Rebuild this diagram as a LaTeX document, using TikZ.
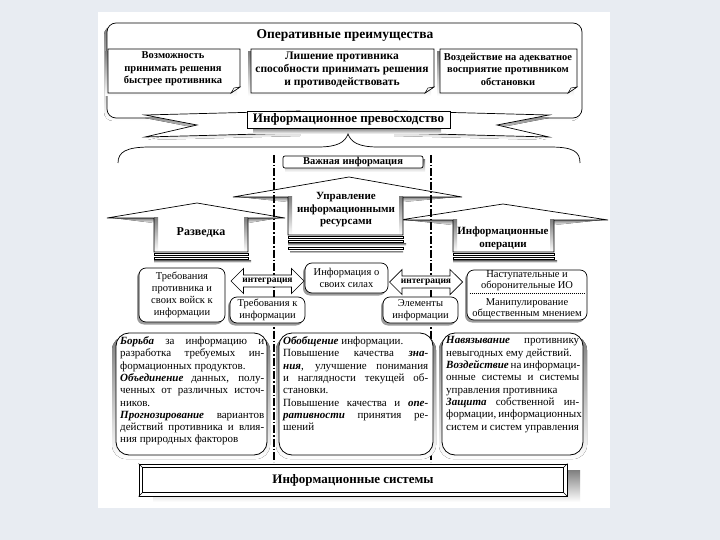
\documentclass[tikz,border=0pt]{standalone}
\usepackage{fontspec}
\setmainfont{Liberation Serif}
\usetikzlibrary{calc,shapes.arrows,shadows}
\definecolor{slidebg}{HTML}{E8ECF2}
\definecolor{shade}{HTML}{9C9C9C}
\newcommand{\fsz}[2]{\fontsize{#1}{#2}\selectfont}
\newcommand{\kw}[1]{\textbf{\textit{#1}}}
\newcommand{\nohyph}{\hyphenpenalty=10000 \exhyphenpenalty=10000 \tolerance=9999 \hbadness=10000 \emergencystretch=5pt}
\tikzset{
  ol/.style={draw=black, line width=0.7pt, fill=white},
  bt/.style={align=center, inner sep=0pt},
  divline/.style={line width=1.1pt, dash pattern=on 8pt off 2pt on 1.5pt off 2pt},
  mbox/.style={draw=black, line width=0.7pt, fill=white, rounded corners=7pt, align=center, inner sep=0pt, font=\fsz{10.5}{12.2},
     drop shadow={shadow xshift=-2pt, shadow yshift=-2.5pt, fill=shade, opacity=1}},
  intarrow/.style={double arrow, draw=black, line width=0.7pt, fill=white, double arrow head extend=6pt,
     inner xsep=1pt, inner ysep=2pt, minimum height=73pt, minimum width=25pt, font=\bfseries\fsz{9.5}{11}},
  bbox/.style={draw=black, line width=0.8pt, fill=white, rounded corners=13pt},
  btext/.style={anchor=north west, inner sep=0pt, align=justify, font=\fsz{11}{12.3}\nohyph},
}
\newcommand{\docbox}[4]{%
  \fill[shade] (#1-3,#2+3) rectangle (#3-3,#4+3);
  \draw[ol] (#1,#2) -- (#3,#2) -- (#3,#4-6) -- (#3-9,#4) -- (#1,#4) -- cycle;
  \draw[ol,line width=0.5pt] (#3-9,#4) -- (#3-6,#4-5) -- (#3,#4-6) -- cycle;
}
% tipLx tipRx peakx peaky ys bodyleft bodyright bodybottom
\newcommand{\house}[8]{%
  \fill[shade] (#1+6,#5) -- (#6,#5) -- (#6,#5+5) -- cycle;
  \fill[shade] (#2-6,#5) -- (#7,#5) -- (#7,#5+5) -- cycle;
  \fill[white] (#1,#5) -- (#3,#4) -- (#2,#5) -- (#7,#5) -- (#7,#8) -- (#6,#8) -- (#6,#5) -- cycle;
  \fill[shade] (#6,#5) rectangle (#6+4,#8);
  \fill[shade] (#7-4,#5) rectangle (#7,#8);
  \draw[line width=0.7pt] (#1,#5) -- (#3,#4) -- (#2,#5) -- (#7,#5) -- (#7,#8) -- (#6,#8) -- (#6,#5) -- cycle;
  \draw[ol,line width=0.6pt] (#6,#8+1) rectangle (#7,#8+3.5);
  \draw[ol,line width=0.6pt] (#6,#8+5) rectangle (#7,#8+7.5);
  \fill[shade] (#6,#8+8.5) rectangle (#7+3,#8+10.5);
}
\begin{document}
\begin{tikzpicture}[x=1pt,y=-1pt]
\useasboundingbox (0,0) rectangle (720,540);
\fill[slidebg] (0,0) rectangle (720,540);
\fill[white] (98,12) rectangle (610,508);

% ---- container: operational advantages
\fill[shade,rounded corners=9pt] (104,26) rectangle (580,121);
\draw[ol,rounded corners=9pt] (107,23) rectangle (582,118);
\node[bt,font=\bfseries\fsz{13.5}{15}] (opt) at (345,35) {Оперативные преимущества};

\docbox{108}{49}{240}{93}
\docbox{251}{49}{434}{93}
\docbox{440}{49}{577}{93}
\node[bt,font=\bfseries\fsz{10.5}{12.5}] (b1) at (173,69) {Возможность\\принимать решения\\быстрее противника};
\node[bt,font=\bfseries\fsz{11.5}{13}] (b2) at (342,70) {Лишение противника\\способности принимать решения\\и противодействовать};
\node[bt,font=\bfseries\fsz{10.5}{12.5}] (b3) at (508,69) {Воздействие на адекватное\\восприятие противником\\обстановки};

% ---- ribbon: information superiority
\fill[shade] (145,118) -- (300,114) -- (300,136) -- (148,140) -- (197,128) -- cycle;
\draw[ol] (145,115) -- (300,111) -- (300,133) -- (145,137) -- (197,125) -- cycle;
\fill[shade] (549,118) -- (394,114) -- (394,136) -- (546,140) -- (497,128) -- cycle;
\draw[ol] (549,115) -- (394,111) -- (394,133) -- (549,137) -- (497,125) -- cycle;
\fill[shade] (253,128) rectangle (441,134);
\node[ol, minimum width=203pt, minimum height=17pt, inner sep=0pt, font=\bfseries\fsz{13}{15}] (infsup) at (348.5,119.5) {Информационное превосходство};

% ---- brace
\draw[line width=0.7pt] (118,163) .. controls (118,152) and (126,147) .. (150,147) -- (318,147)
   .. controls (338,147) and (345,142) .. (348,134) .. controls (351,142) and (358,147) .. (378,147)
   -- (550,147) .. controls (574,147) and (580,152) .. (580,163);

% ---- important information
\fill[shade] (285,160) rectangle (425,172);
\node[ol, rounded corners=2pt, minimum width=140pt, minimum height=12pt, inner sep=0pt, font=\bfseries\fsz{10.5}{12}] (vazh) at (353,162) {Важная информация};

% ---- houses
\house{107}{285}{197}{203}{218}{154}{248}{252}
\house{400}{608}{503}{204}{220}{453}{554}{252}
\house{233}{462}{349}{177}{197}{288}{403}{235}
\draw[ol,line width=0.6pt] (288,247) rectangle (403,249.5);
\fill[shade] (290,251) rectangle (403,253);
\node[bt,font=\bfseries\fsz{12}{14}] (razv) at (201,233) {Разведка};
\node[bt,font=\bfseries\fsz{11}{12.5}] (upr) at (346,210) {Управление\\информационными\\ресурсами};
\node[bt,font=\bfseries\fsz{11}{13}] (io) at (503,238) {Информационные\\операции};

% ---- divider lines
\coordinate (d1t) at (274,155); \coordinate (d1b) at (274,462);
\coordinate (d2t) at (431,155); \coordinate (d2b) at (431,462);
\draw[divline] (d1t) -- (d1b);
\draw[divline] (d2t) -- (d2b);

% ---- middle row
\node[mbox, minimum width=86pt, minimum height=54pt] (trp) at (182,295) {Требования\\противника и\\своих войск к\\информации};
\node[mbox, minimum width=83pt, minimum height=30pt] (ios) at (346.5,278) {Информация о\\своих силах};
\node[mbox, minimum width=75pt, minimum height=26pt] (tki) at (267.5,310) {Требования к\\информации};
\node[mbox, minimum width=75pt, minimum height=26pt] (ei) at (420.5,310) {Элементы\\информации};
\node[mbox, minimum width=120pt, minimum height=50pt] (nao) at (527,295) {};
\node[bt,font=\fsz{10.5}{11}] (nao1) at (527,281) {Наступательные и\\оборонительные ИО};
\node[bt,font=\fsz{10.5}{11}] (nao2) at (527,309) {Манипулирование\\общественным мнением};
\draw[densely dotted, line width=1pt] ([xshift=3pt,yshift=2pt]nao.west) -- ([xshift=-3pt,yshift=2pt]nao.east);
\node[intarrow] (int1) at (267.5,281) {интеграция};
\node[intarrow] (int2) at (426,282) {интеграция};

% ---- bottom boxes
\fill[shade,rounded corners=14pt] (112,336) rectangle (270,459);
\fill[shade,rounded corners=14pt] (276,336) rectangle (436,459);
\fill[shade,rounded corners=14pt] (439,336) rectangle (587,459);
\draw[bbox] (116,333) rectangle (267,455);
\draw[bbox] (279,333) rectangle (433,455);
\draw[bbox] (442,333) rectangle (583,455);
\node[btext, text width=144pt] (t1) at (120,336.5) {%
\kw{Борьба} за информацию и\linebreak разработка требуемых ин-\linebreak формационных продуктов.\par
\kw{Объединение} данных, полу-\linebreak ченных от различных источ-\linebreak ников.\par
\kw{Прогнозирование} вариантов\linebreak действий противника и влия-\linebreak ния природных факторов};
\node[btext, text width=145pt] (t2) at (283,336.5) {%
\kw{Обобщение} информации.\par
Повышение качества \kw{зна-}\linebreak \kw{ния}, улучшение понимания\linebreak и наглядности текущей об-\linebreak становки.\par
Повышение качества и \kw{опе-}\linebreak \kw{ративности} принятия ре-\linebreak шений};
\node[btext, text width=133pt] (t3) at (446,336.5) {%
\kw{Навязывание} противнику\linebreak невыгодных ему действий.\par
\kw{Воздействие} на информаци-\linebreak онные системы и системы\linebreak управления противника\par
\kw{Защита} собственной ин-\linebreak формации, информационных\linebreak систем и систем управления};

% ---- information systems
\fill[shade] (153,470) rectangle (580,502);
\node[draw=black, line width=0.8pt, fill=white, minimum width=428pt, minimum height=32pt, inner sep=0pt, font=\bfseries\fsz{13}{15}] (is) at (353,480) {Информационные системы};
\draw[line width=0.6pt] ([xshift=4pt,yshift=-4pt]is.north west) rectangle ([xshift=-4pt,yshift=4pt]is.south east);
\draw[line width=0.6pt] (is.north west) -- ([xshift=4pt,yshift=-4pt]is.north west);
\draw[line width=0.6pt] (is.north east) -- ([xshift=-4pt,yshift=-4pt]is.north east);
\draw[line width=0.6pt] (is.south west) -- ([xshift=4pt,yshift=4pt]is.south west);
\draw[line width=0.6pt] (is.south east) -- ([xshift=-4pt,yshift=4pt]is.south east);
\end{tikzpicture}
\end{document}
